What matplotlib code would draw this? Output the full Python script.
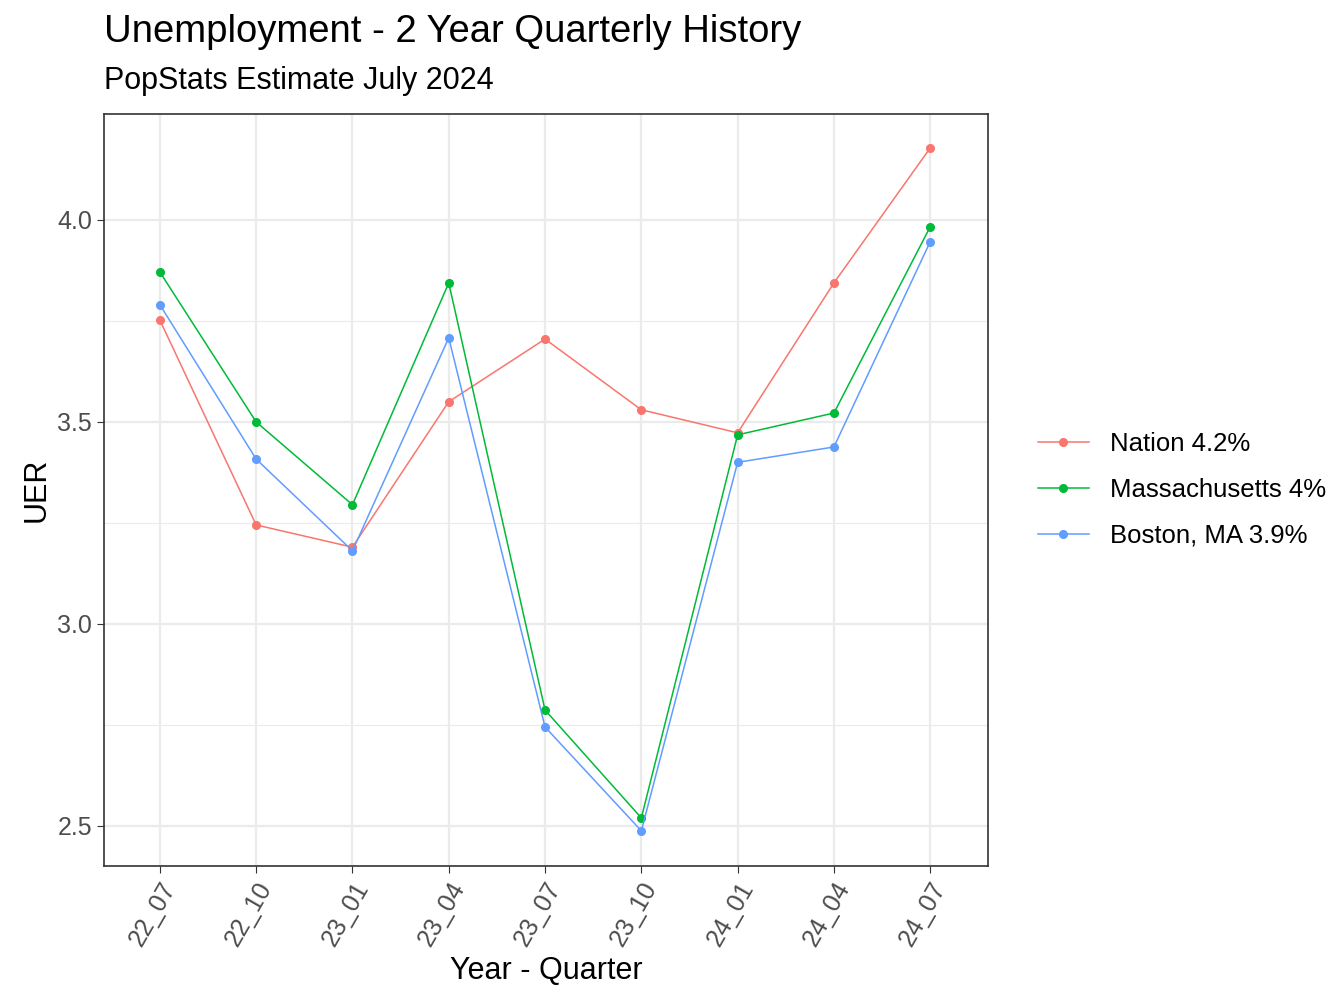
import matplotlib
matplotlib.use("Agg")
import matplotlib.pyplot as plt

quarters = ["22_07","22_10","23_01","23_04","23_07","23_10","24_01","24_04","24_07"]
nation = [3.752,3.245,3.19,3.55,3.705,3.53,3.473,3.844,4.178]
mass = [3.871,3.5,3.295,3.844,2.787,2.52,3.468,3.522,3.983]
boston = [3.79,3.408,3.181,3.708,2.745,2.488,3.4,3.438,3.946]
labels = ["Nation 4.2%","Massachusetts 4%","Boston, MA 3.9%"]
colors = ["#F8766D","#00BA38","#619CFF"]

plt.rcParams["font.family"] = "Liberation Sans"
fig = plt.figure(figsize=(13.44,10.08), dpi=100)
ax = fig.add_axes([104/1344, 1-866/1008, 884/1344, 752/1008])
x = list(range(len(quarters)))
for s, lab, c in zip([nation, mass, boston], labels, colors):
    ax.plot(x, s, color=c, lw=1.1, marker="o", ms=5.5, label=lab)
ax.set_xlim(-0.58, 8.6)
ax.set_ylim(2.401, 4.262)
ax.set_xticks(x)
ax.set_xticklabels(quarters, rotation=60, ha="right", va="top", rotation_mode="anchor", fontsize=18, color="#4D4D4D")
ax.set_yticks([2.5,3.0,3.5,4.0])
ax.set_yticklabels(["2.5","3.0","3.5","4.0"], fontsize=18, color="#4D4D4D")
ax.set_yticks([2.75,3.25,3.75], minor=True)
ax.grid(True, which="major", color="#EBEBEB", lw=1.6)
ax.grid(True, which="minor", axis="y", color="#EBEBEB", lw=0.8)
ax.tick_params(which="minor", length=0)
ax.tick_params(which="major", length=5, color="#333333")
ax.set_axisbelow(True)
for sp in ax.spines.values():
    sp.set_color("#333333"); sp.set_linewidth(1.2)
ax.set_xlabel("Year - Quarter", fontsize=22)
ax.set_ylabel("UER", fontsize=22)
fig.text(104/1344, 1-32/1008, "Unemployment - 2 Year Quarterly History", fontsize=27.5, va="center")
fig.text(104/1344, 1-81/1008, "PopStats Estimate July 2024", fontsize=22, va="center")
ax.legend(loc="center left", bbox_to_anchor=(1.03, 0.5), frameon=False, fontsize=18.5, handlelength=2.0, labelspacing=0.85)
fig.savefig("out.png", dpi=100)
